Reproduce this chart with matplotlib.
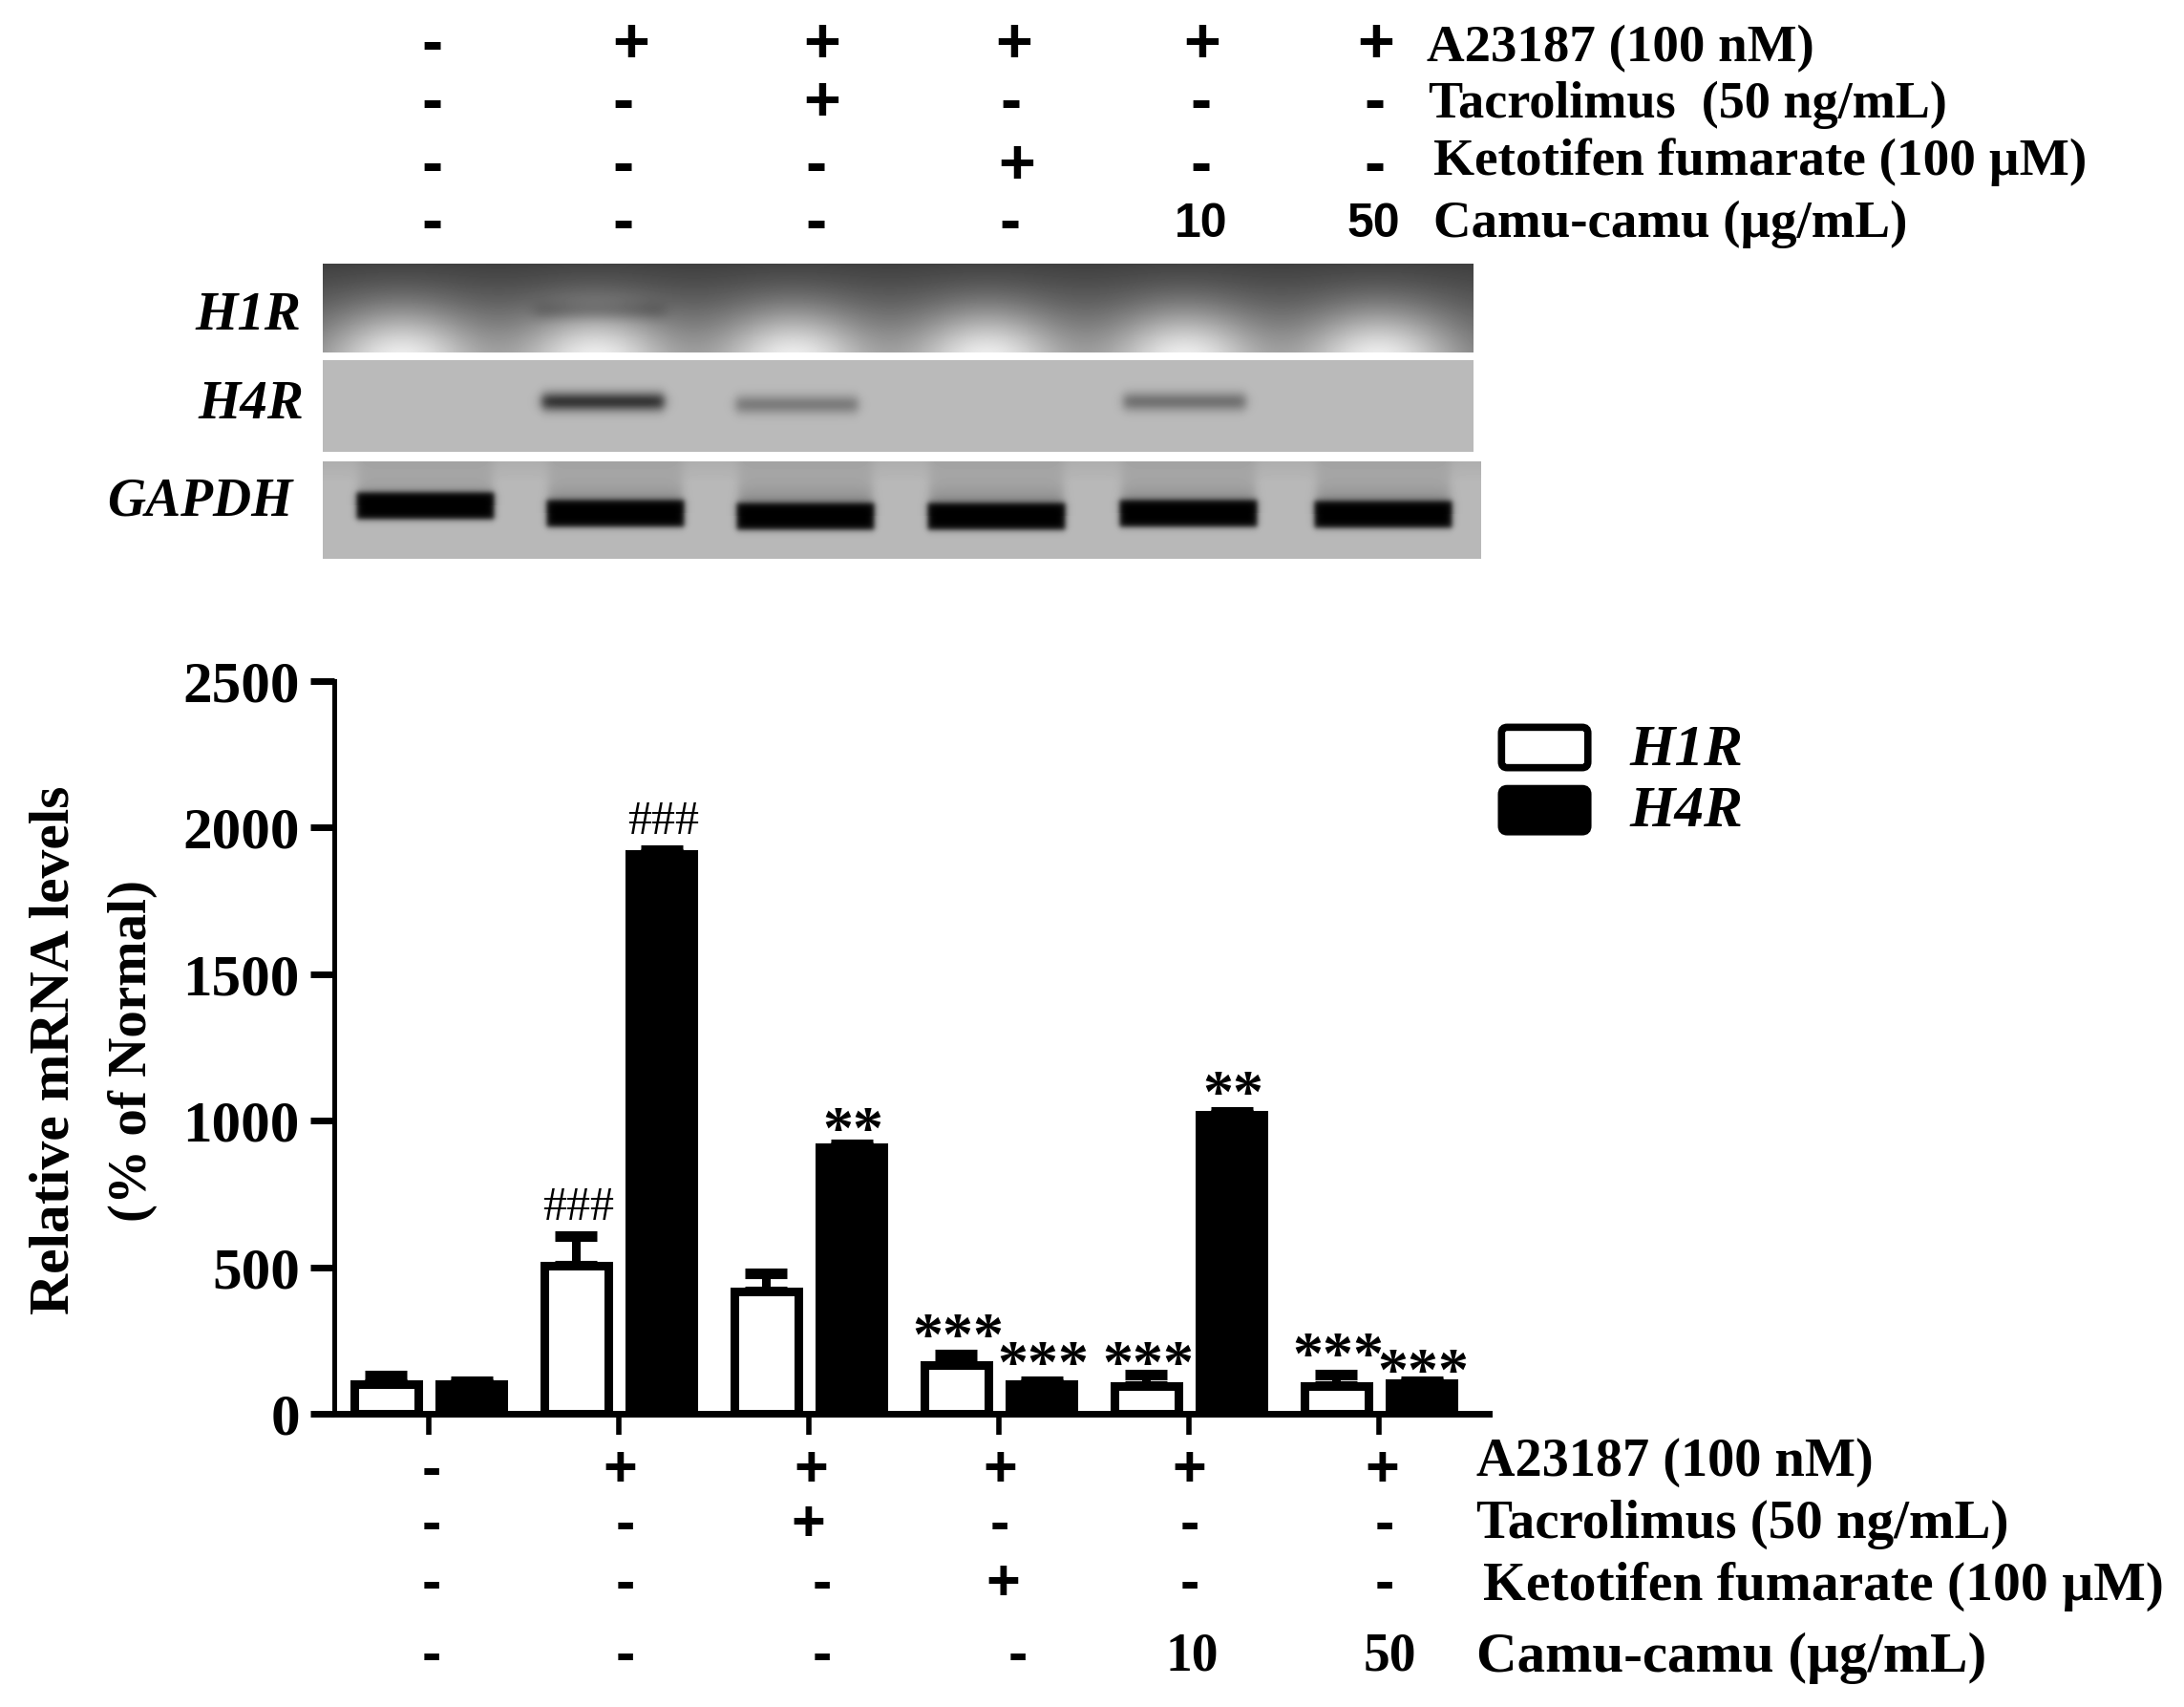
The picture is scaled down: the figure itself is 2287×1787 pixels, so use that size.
import numpy as np
import matplotlib
matplotlib.use("Agg")
import matplotlib.pyplot as plt
from matplotlib.patches import FancyBboxPatch

W, H = 2287, 1787
S = 2287 / 1568

# ---------- data ----------
groups = list(range(6))
h1r = [100, 505, 418, 165, 95, 95]
h1r_top = [130, 605, 480, 203, 133, 133]
h4r = [100, 1910, 910, 100, 1020, 105]
h4r_top = [112, 1922, 920, 112, 1030, 110]
yticks = [0, 500, 1000, 1500, 2000, 2500]
series_names = ["H1R", "H4R"]

marks = ["###", "###", "**", "***", "***", "***", "**", "***", "***"]
mark_group = [1, 1, 2, 3, 3, 4, 4, 5, 5]
mark_series = [0, 1, 1, 0, 1, 0, 1, 0, 1]
mark_y = [700, 2018, 955, 250, 155, 155, 1080, 185, 130]

row_labels_top = ["A23187 (100 nM)", "Tacrolimus  (50 ng/mL)",
                  "Ketotifen fumarate (100 µM)", "Camu-camu (µg/mL)"]
row_labels_bottom = ["A23187 (100 nM)", "Tacrolimus (50 ng/mL)",
                     "Ketotifen fumarate (100 µM)", "Camu-camu (µg/mL)"]
rows = [["-", "+", "+", "+", "+", "+"],
        ["-", "-", "+", "-", "-", "-"],
        ["-", "-", "-", "+", "-", "-"],
        ["-", "-", "-", "-", "10", "50"]]

gel_labels = ["H1R", "H4R", "GAPDH"]
# lane centres / band strengths of the gel strips
h1r_lanes = [420, 623, 830, 1033, 1240, 1443]
h4r_lanes = [631, 834, 1240]
h4r_band_y = [420, 423, 420]
h4r_band_grey = [55, 125, 115]
gapdh_lanes = [445, 644, 843, 1043, 1244, 1448]
gapdh_y = [529, 537, 540, 540, 537, 538]

# ---------- figure ----------
fig = plt.figure(figsize=(W / 100, H / 100), dpi=100, facecolor="white")
SERIF = "Liberation Serif"
SANS = "Liberation Sans"


def axes_px(x0, y0, x1, y1, **kw):
    return fig.add_axes([x0 / W, 1 - y1 / H, (x1 - x0) / W, (y1 - y0) / H], **kw)


def t(x, y, s, size=38, family=SERIF, weight="bold", style="normal", ha="left", va="center", **kw):
    fig.text(x * S / W, 1 - y * S / H, s, fontsize=size, family=family, weight=weight,
             style=style, ha=ha, va=va, color="black", **kw)


# ---------- gel strips ----------
def smooth(u, w):
    return 0.5 * (1 + np.tanh(u / w))


def gel_h1r():
    x0, y0, x1, y1 = 338, 276, 1543, 369
    X, Y = np.meshgrid(np.arange(x0, x1), np.arange(y0, y1))
    v = (Y - y0) / (y1 - y0)
    img = 62 + 50 * v
    for c in h1r_lanes:
        d2 = ((X - c) / 80.0) ** 2 + ((Y - y1 - 6) / 55.0) ** 2
        img = img + 125 * np.exp(-d2)
    # faint band in lane 2
    band = smooth(X - 560, 10) * smooth(695 - X, 10) * np.exp(-((Y - 325) / 10.0) ** 2)
    img = img - 25 * band
    return np.clip(img, 0, 255), (x0, y0, x1, y1)


def gel_h4r():
    x0, y0, x1, y1 = 338, 377, 1543, 473
    X, Y = np.meshgrid(np.arange(x0, x1), np.arange(y0, y1))
    img = np.full(X.shape, 186.0)
    for c, yb, g in zip(h4r_lanes, h4r_band_y, h4r_band_grey):
        band = smooth(X - (c - 64), 6) * smooth((c + 64) - X, 6) * np.exp(-((Y - yb) / 10.0) ** 2)
        img = img - (186 - g) * band
    return img, (x0, y0, x1, y1)


def gel_gapdh():
    x0, y0, x1, y1 = 338, 483, 1551, 585
    X, Y = np.meshgrid(np.arange(x0, x1), np.arange(y0, y1))
    img = np.full(X.shape, 184.0)
    img = img - 10 * np.clip((505 - Y) / 22, 0, 1)
    for c, yb in zip(gapdh_lanes, gapdh_y):
        lane = smooth(X - (c - 70), 6) * smooth((c + 70) - X, 6)
        narrow = smooth(X - (c - 72), 3.5) * smooth((c + 72) - X, 3.5)
        band = smooth(Y - (yb - 14), 3.5) * smooth((yb + 14) - Y, 3.5)
        upper = np.clip((Y - y0) / 40.0, 0, 1) * (Y < yb)
        img = img - 30 * lane * upper ** 2 - 12 * lane * (Y < yb)
        img = img * (1 - narrow * band)
    return np.clip(img, 0, 255), (x0, y0, x1, y1)


for fn in (gel_h1r, gel_h4r, gel_gapdh):
    img, (x0, y0, x1, y1) = fn()
    a = axes_px(x0, y0, x1, y1)
    a.imshow(img, cmap="gray", vmin=0, vmax=255, aspect="auto", interpolation="bilinear")
    a.axis("off")

# ---------- bar chart ----------
ax = axes_px(350, 713, 1559, 1480)
ax.set_xlim((350 - 449) / 199, (1559 - 449) / 199)
ax.set_ylim(0, 2500)
off, bw, elw = 0.224, 0.335, 6.5
x = np.array(groups, dtype=float)
ax.errorbar(x - off, h1r, yerr=[np.zeros(6), np.array(h1r_top) - np.array(h1r)], fmt="none",
            ecolor="black", elinewidth=6.5, capsize=16, capthick=8, zorder=1)
ax.errorbar(x + off, h4r, yerr=[np.zeros(6), np.array(h4r_top) - np.array(h4r)], fmt="none",
            ecolor="black", elinewidth=6.5, capsize=16, capthick=8, zorder=1)
ax.bar(x - off, h1r, bw, facecolor="white", edgecolor="black", linewidth=elw, zorder=2)
ax.bar(x + off, h4r, bw, facecolor="black", edgecolor="black", linewidth=elw, zorder=2)
for s in ("top", "right"):
    ax.spines[s].set_visible(False)
ax.spines["left"].set_linewidth(3.6)
ax.spines["bottom"].set_linewidth(5)
ax.set_xticks(x)
ax.set_xticklabels([])
ax.set_yticks(yticks)
ax.tick_params(axis="y", length=18, width=5, pad=8)
ax.tick_params(axis="x", length=16, width=4)
for lab in ax.get_yticklabels():
    lab.set_fontsize(44)
    lab.set_family(SERIF)
    lab.set_weight("bold")
ax.patch.set_alpha(0)

for m, g, sr, yv in zip(marks, mark_group, mark_series, mark_y):
    ax.text(g + (off if sr else -off) + 0.01, yv, m, ha="center", va="center",
            fontsize=46 if m != "###" else 36, family=SERIF, weight="bold" if m != "###" else "normal",
            clip_on=False, zorder=3)

# y label
t(40, 754, "Relative mRNA levels", size=43, rotation=90, ha="center", va="center")
t(95, 754, "(% of Normal)", size=41, rotation=90, ha="center", va="center")

# legend
lax = axes_px(0, 0, W, H)
lax.set_xlim(0, W)
lax.set_ylim(H, 0)
lax.axis("off")
lax.patch.set_alpha(0)
for (x0, y0, x1, y1), fc in zip([(1078, 522, 1140, 551), (1078, 566, 1140, 597)], ["white", "black"]):
    lax.add_patch(FancyBboxPatch((x0 * S, y0 * S), (x1 - x0) * S, (y1 - y0) * S,
                                 boxstyle="round,pad=0,rounding_size=6", fc=fc, ec="black", lw=5.5))
t(1170, 539, series_names[0], size=44, style="italic")
t(1170, 583, series_names[1], size=44, style="italic")

# gel labels
t(216, 227, gel_labels[0], size=41, style="italic", ha="right")
t(218, 291, gel_labels[1], size=41, style="italic", ha="right")
t(210, 360, gel_labels[2], size=40, style="italic", ha="right")

# top table
top_x = [[310, 453, 590, 728, 863, 988],
         [310, 447, 590, 726, 862, 987],
         [310, 447, 586, 730, 862, 987],
         [310, 447, 586, 725, 862, 986]]
top_y = [33, 75, 120, 161]
for r, (row, xs, yy) in enumerate(zip(rows, top_x, top_y)):
    for s, xx in zip(row, xs):
        t(xx, yy, s, size=48 if s in "+-" else 36, family=SANS, ha="center")
for lab, xx, yy, sz in zip(row_labels_top, [1024, 1026, 1029, 1029], [35, 75, 116, 161], [39.5, 39, 39.8, 39.5]):
    t(xx, yy, lab, size=sz)

# bottom table
bot_x = [[310, 445, 582, 718, 854, 992],
         [310, 449, 580, 718, 854, 994],
         [310, 449, 590, 720, 854, 994],
         [310, 449, 590, 731, 856, 998]]
bot_y = [1056, 1095, 1138, 1189]
for r, (row, xs, yy) in enumerate(zip(rows, bot_x, bot_y)):
    for s, xx in zip(row, xs):
        if s in "+-":
            t(xx, yy, s, size=44, family=SANS, ha="center")
        else:
            t(xx, yy, s, size=40, ha="center")
for lab, xx, yy, sz in zip(row_labels_bottom, [1060, 1060, 1065, 1060], [1050, 1094, 1139, 1190], [40.5, 41, 41.5, 42.5]):
    t(xx, yy, lab, size=sz)

fig.savefig("out.png", dpi=100, facecolor="white")
